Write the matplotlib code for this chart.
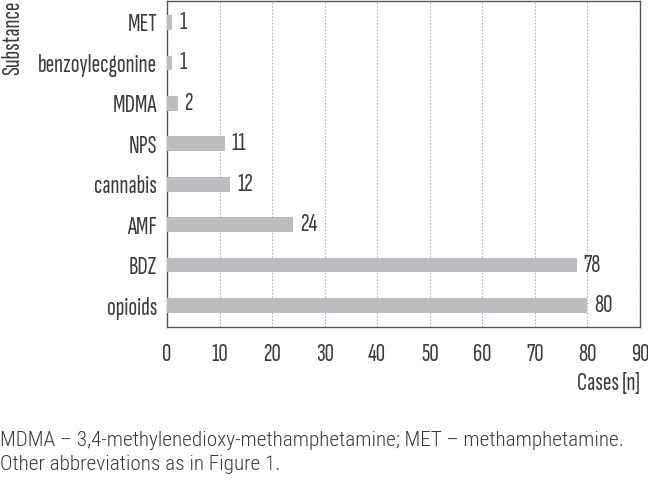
import matplotlib
matplotlib.use("Agg")
import matplotlib.pyplot as plt

chart_font = ['Sofia Sans Extra Condensed', 'Saira ExtraCondensed', 'DejaVu Sans']
caption_font = ['Roboto Condensed', 'DejaVu Sans']
plt.rcParams['font.family'] = chart_font

categories = ["opioids", "BDZ", "AMF", "cannabis", "NPS", "MDMA", "benzoylecgonine", "MET"]
values = [80, 78, 24, 12, 11, 2, 1, 1]
xticks = [0, 10, 20, 30, 40, 50, 60, 70, 80, 90]
caption_lines = ["MDMA – 3,4-methylenedioxy-methamphetamine; MET – methamphetamine.",
                 "Other abbreviations as in Figure 1."]

text_color = "#3c3c3c"
bar_color = "#bcbdc0"
spine_color = "#555555"
fs = 18.6
cfs = 15.3

fig = plt.figure(figsize=(6.48, 4.84), dpi=100)
ax = fig.add_axes([167/648, 1 - 327/484, (640-167)/648, (327-1)/484])

y = list(range(len(categories)))
ax.barh(y, values, height=0.36, color=bar_color, zorder=3)
for yi, v in zip(y, values):
    ax.text(v + 1.3, yi, str(v), va="center", ha="left", fontsize=fs, color=text_color)

ax.set_xlim(0, 90)
ax.set_ylim(-0.53, 7.53)
ax.set_xticks(xticks)
ax.set_xticklabels([str(t) for t in xticks])
ax.set_yticks(y)
ax.set_yticklabels(categories)
ax.tick_params(length=0, labelsize=fs, colors=text_color, pad=7)
ax.tick_params(axis="x", pad=11.5)
ax.xaxis.grid(True, linestyle=(0, (1, 2)), color="#999999", linewidth=0.8, zorder=0)
ax.set_axisbelow(True)
for s in ax.spines.values():
    s.set_color(spine_color)
    s.set_linewidth(1.0)

ax.set_xlabel("Cases [n]", loc="right", fontsize=fs, color=text_color, labelpad=4)
fig.text(13/648, 1 - 1/484, "Substance", rotation=90, ha="center", va="top",
         fontsize=fs, color=text_color)

fig.text(0.0, 1 - 440/484, caption_lines[0], fontsize=cfs, color=text_color,
         va="center", ha="left", family=caption_font, fontweight=300)
fig.text(0.0, 1 - 465/484, caption_lines[1], fontsize=cfs, color=text_color,
         va="center", ha="left", family=caption_font, fontweight=300)

fig.savefig("out.png", dpi=100, facecolor="white")
